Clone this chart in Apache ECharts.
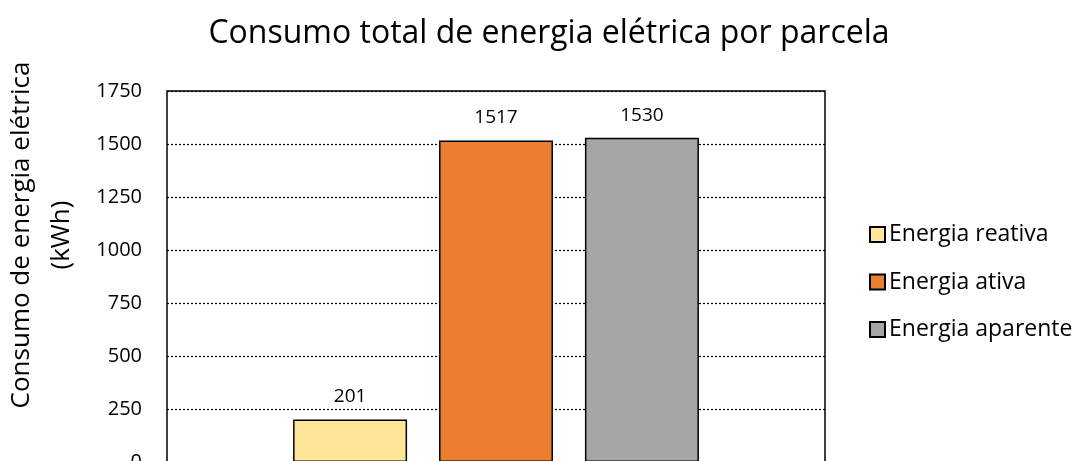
<!DOCTYPE html>
<html>
<head>
<meta charset="utf-8">
<script src="https://cdn.jsdelivr.net/npm/echarts@6/dist/echarts.min.js"></script>
<style>
  html, body { margin: 0; padding: 0; background: #fff; }
  #chart { width: 1085px; height: 461px; }
</style>
</head>
<body>
<div id="chart"></div>
<script>
// 数据
const categories = ['Parcela'];
const seriesNames = ['Energia reativa', 'Energia ativa', 'Energia aparente'];
const seriesValues = [[201], [1517], [1530]];
const seriesColors = ['#FFE699', '#ED7D31', '#A5A5A5'];

const chart = echarts.init(document.getElementById('chart'));
const FONT = 'Open Sans';

const series = seriesNames.map((name, i) => ({
    name: name,
    type: 'bar',
    data: seriesValues[i],
    barWidth: 114,
    barGap: '28%',
    itemStyle: { color: seriesColors[i], borderColor: '#000', borderWidth: 1.5 },
    label: {
        show: true,
        position: 'top',
        distance: 13,
        color: '#000',
        fontFamily: FONT,
        fontSize: 19
    }
}));

chart.setOption({
    animation: false,
    title: {
        text: 'Consumo total de energia elétrica por parcela',
        left: 544,
        textAlign: 'center',
        top: 13,
        textStyle: { fontFamily: FONT, fontSize: 32, fontWeight: 'normal', color: '#000' }
    },
    legend: {
        orient: 'vertical',
        left: 864,
        top: 218,
        itemWidth: 15,
        itemHeight: 15,
        itemGap: 24.5,
        icon: 'rect',
        textStyle: { fontFamily: FONT, fontSize: 23, color: '#000', padding: [0, 0, 0, -1] },
        data: seriesNames
    },
    grid: {
        left: 167,
        right: 260,
        top: 91,
        bottom: -1,
        outerBoundsMode: 'none',
        show: true,
        borderColor: '#000',
        borderWidth: 1.5
    },
    xAxis: {
        type: 'category',
        data: categories,
        axisLine: { show: true, lineStyle: { color: '#000' } },
        axisTick: { show: false },
        axisLabel: { show: false }
    },
    yAxis: {
        type: 'value',
        min: 0,
        max: 1750,
        interval: 250,
        axisLine: { show: false },
        axisTick: { show: false },
        axisLabel: {
            color: '#000', fontFamily: FONT, fontSize: 20, margin: 25,
            formatter: v => String(v)
        },
        splitLine: { lineStyle: { color: '#000', type: [2, 2], width: 1.2 } }
    },
    graphic: [{
        type: 'text',
        x: 42,
        y: 235,
        rotation: Math.PI / 2,
        style: {
            text: 'Consumo de energia elétrica\n(kWh)',
            fontFamily: FONT,
            fontSize: 26,
            lineHeight: 40,
            fill: '#000',
            align: 'center',
            verticalAlign: 'middle'
        }
    }],
    series: series
});
</script>
</body>
</html>
